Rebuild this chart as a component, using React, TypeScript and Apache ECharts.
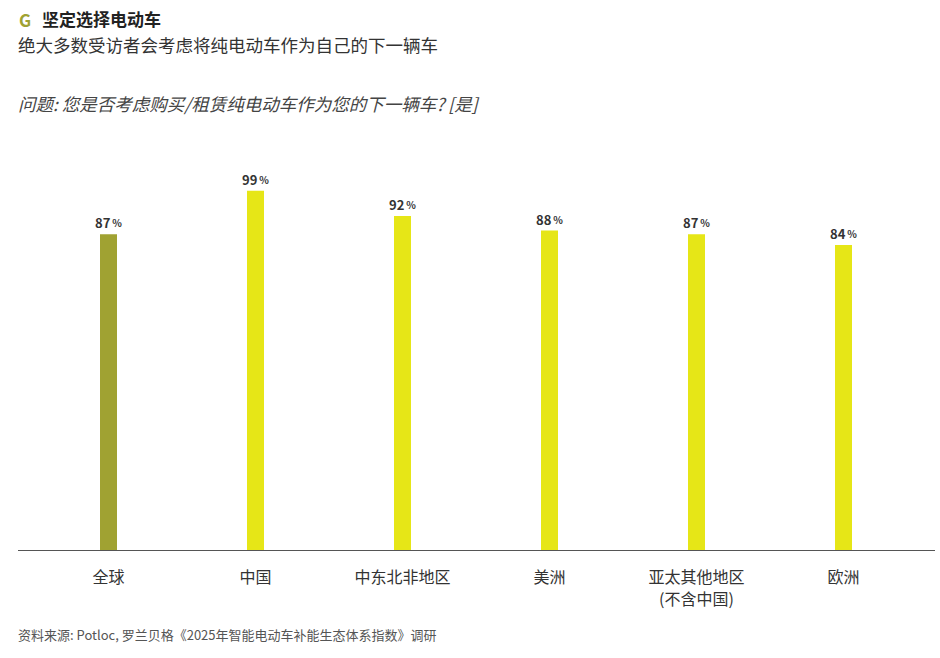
import React, { useEffect, useRef } from "react";
import * as echarts from "echarts";

const categories = ["全球", "中国", "中东北非地区", "美洲", "亚太其他地区\n(不含中国)", "欧洲"];
const values = [87, 99, 92, 88, 87, 84];
const barColors = ["#a0a232", "#e6e617", "#e6e617", "#e6e617", "#e6e617", "#e6e617"];

const FONT = "'Noto Sans CJK SC', 'Noto Sans', sans-serif";

export default function App() {
  const ref = useRef<HTMLDivElement>(null);
  useEffect(() => {
    document.body.style.margin = "0";
    const chart = echarts.init(ref.current!, null, { renderer: "svg" });
    chart.setOption({
      animation: false,
      backgroundColor: "#ffffff",
      textStyle: { fontFamily: FONT },
      grid: { left: 35, right: 23, top: 187, bottom: 108 },
      xAxis: {
        type: "category",
        data: categories,
        axisLine: { show: false },
        axisTick: { show: false },
        axisLabel: {
          color: "#333",
          fontSize: 16,
          lineHeight: 22,
          margin: 15,
          fontFamily: FONT,
          interval: 0,
        },
      },
      yAxis: {
        type: "value",
        min: 0,
        max: 100,
        show: false,
        splitLine: { show: false },
      },
      series: [
        {
          type: "bar",
          barWidth: 17,
          data: values.map((v, i) => ({ value: v, itemStyle: { color: barColors[i] } })),
          label: {
            show: true,
            position: "top",
            distance: 5,
            formatter: (p: any) => `{n|${p.value}}{p|%}`,
            rich: {
              n: { fontSize: 13, fontWeight: "bold", color: "#333", fontFamily: FONT },
              p: { fontSize: 10, fontWeight: "bold", color: "#333", fontFamily: FONT, padding: [0, 0, 0, 2] },
            },
          },
        },
      ],
      graphic: [
        {
          type: "line",
          shape: { x1: 18, y1: 550.5, x2: 935, y2: 550.5 },
          style: { stroke: "#555", lineWidth: 1 },
        },
        {
          type: "text",
          left: 19,
          top: 11,
          style: { text: "G", fill: "#a0a232", font: `bold 17px ${FONT}` },
        },
        {
          type: "text",
          left: 42,
          top: 10,
          style: { text: "坚定选择电动车", fill: "#222", font: `bold 17px ${FONT}` },
        },
        {
          type: "text",
          left: 18,
          top: 36,
          style: { text: "绝大多数受访者会考虑将纯电动车作为自己的下一辆车", fill: "#333", font: `17.5px ${FONT}` },
        },
        {
          type: "text",
          left: 18,
          top: 95,
          style: {
            text: "问题: 您是否考虑购买/租赁纯电动车作为您的下一辆车? [是]",
            fill: "#444",
            font: `italic 17.5px ${FONT}`,
          },
        },
        {
          type: "text",
          left: 18,
          top: 628,
          style: {
            text: "资料来源: Potloc, 罗兰贝格《2025年智能电动车补能生态体系指数》调研",
            fill: "#555",
            font: `13px ${FONT}`,
          },
        },
      ],
    });
    return () => chart.dispose();
  }, []);
  return <div ref={ref} style={{ width: 940, height: 658 }} />;
}
